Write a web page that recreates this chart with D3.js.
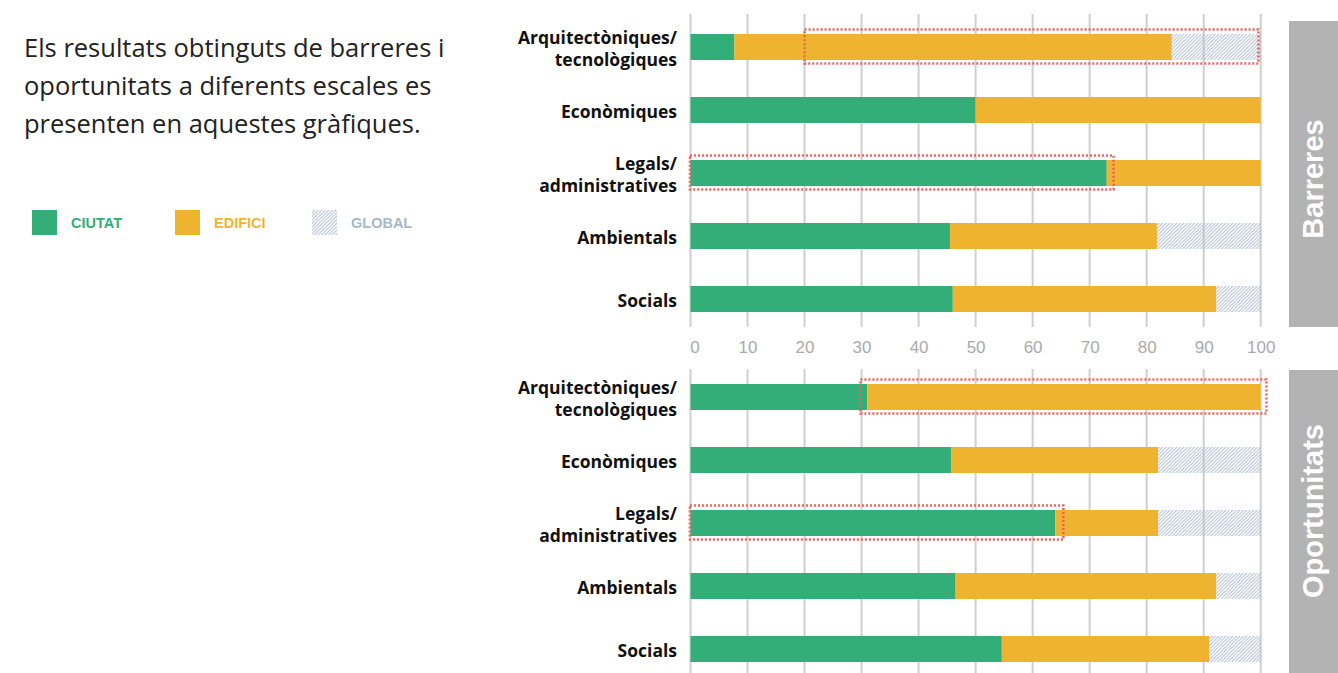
<!DOCTYPE html>
<html><head><meta charset="utf-8">
<script src="https://cdn.jsdelivr.net/npm/d3@7"></script>
<style>
html,body{margin:0;padding:0;background:#fff;}
svg{display:block;}
</style></head>
<body>
<svg id="chart" width="1338" height="673"></svg>
<script>
// ---- data ----
const categories = ["Arquitectòniques/tecnològiques", "Econòmiques", "Legals/administratives", "Ambientals", "Socials"];
const categoryLines = [["Arquitectòniques/", "tecnològiques"], ["Econòmiques"], ["Legals/", "administratives"], ["Ambientals"], ["Socials"]];
const seriesNames = ["CIUTAT", "EDIFICI", "GLOBAL"];
const barreresCiutat  = [7.7, 50, 73, 45.5, 46];
const barreresEdifici = [76.7, 50, 27, 36.3, 46.2];
const barreresGlobal  = [15.6, 0, 0, 18.2, 7.8];
const oportCiutat  = [31, 45.7, 64, 46.5, 54.6];
const oportEdifici = [69, 36.3, 18, 45.7, 36.4];
const oportGlobal  = [0, 18, 18, 7.8, 9];
const tickValues = [0, 10, 20, 30, 40, 50, 60, 70, 80, 90, 100];
// highlighted ranges: [categoryIndex, from, to]
const barreresHighlights = [[0, 20, 99.6], [2, -0.1, 74.2]];
const oportHighlights = [[0, 29.8, 101], [2, -0.1, 65.4]];
const panelTitles = ["Barreres", "Oportunitats"];
const introLines = ["Els resultats obtinguts de barreres i", "oportunitats a diferents escales es", "presenten en aquestes gràfiques."];

// ---- styles ----
const colGreen = "#33ae78", colYellow = "#efb42f", colHatch = "#a9b7cc", colRed = "#e8655a";
const labelFont = "'Open Sans', 'Noto Sans', sans-serif";
const sansFont = "'Liberation Sans', Arial, sans-serif";

const svg = d3.select("#chart");
const defs = svg.append("defs");
const pat = defs.append("pattern").attr("id", "hatch").attr("patternUnits", "userSpaceOnUse")
  .attr("width", 3.5).attr("height", 3.5);
pat.append("path").attr("d", "M-1,1 l2,-2 M0,3.5 l3.5,-3.5 M2.5,4.5 l2,-2")
  .attr("stroke", colHatch).attr("stroke-width", 0.9);

const x = d3.scaleLinear().domain([0, 100]).range([690.5, 1260.7]);

// intro text
const intro = svg.append("text").attr("font-family", labelFont).attr("font-size", 25.5).attr("fill", "#222");
introLines.forEach((l, i) => intro.append("tspan").attr("x", 24).attr("y", 57 + i * 38).text(l));

// legend
const legendFill = [colGreen, colYellow, "url(#hatch)"];
const legendText = [colGreen, colYellow, "#a9b7cc"];
const legendX = [32, 175, 312];
seriesNames.forEach((s, i) => {
  svg.append("rect").attr("x", legendX[i]).attr("y", 210).attr("width", 25).attr("height", 25).attr("fill", legendFill[i]);
  svg.append("text").attr("x", legendX[i] + 39).attr("y", 228).attr("font-family", sansFont)
    .attr("font-weight", 700).attr("font-size", 14.5).attr("fill", legendText[i]).text(s);
});

function panel(range, gridRange, ciutat, edifici, global, highlights, title, titleRect, titleY) {
  const y = d3.scalePoint().domain(categories).range(range).padding(0.5);
  const g = svg.append("g");
  // gridlines
  g.selectAll("line.grid").data(tickValues).join("line")
    .attr("x1", d => x(d)).attr("x2", d => x(d)).attr("y1", gridRange[0]).attr("y2", gridRange[1])
    .attr("stroke", "#cfcfcf").attr("stroke-width", 2);
  const bh = 26;
  const stacks = categories.map((c, i) => {
    const a = ciutat[i], b = edifici[i], gl = global[i];
    return [[0, a, colGreen], [a, a + b, colYellow], [a + b, a + b + gl, "url(#hatch)"]].map(s => ({c, s}));
  }).flat();
  g.selectAll("rect.seg").data(stacks.filter(d => d.s[1] > d.s[0])).join("rect")
    .attr("x", d => x(d.s[0])).attr("width", d => x(d.s[1]) - x(d.s[0]))
    .attr("y", d => y(d.c) - bh / 2).attr("height", bh).attr("fill", d => d.s[2]);
  // highlight boxes
  g.selectAll("rect.hl").data(highlights).join("rect")
    .attr("x", d => x(d[1])).attr("width", d => x(d[2]) - x(d[1]))
    .attr("y", d => y(categories[d[0]]) - 17.5).attr("height", 34)
    .attr("fill", "none").attr("stroke", colRed).attr("stroke-width", 2.5).attr("stroke-dasharray", "2,2");
  // category labels
  categories.forEach((c, i) => {
    const lines = categoryLines[i];
    const t = g.append("text").attr("text-anchor", "end").attr("font-family", labelFont)
      .attr("font-weight", 700).attr("font-size", 17.5).attr("fill", "#111");
    lines.forEach((l, j) => {
      t.append("tspan").attr("x", 677).attr("y", y(c) + 7.5 + (j - (lines.length - 1) / 2) * 22).text(l);
    });
  });
  // side title
  svg.append("rect").attr("x", 1289).attr("y", titleRect[0]).attr("width", 60).attr("height", titleRect[1] - titleRect[0]).attr("fill", "#b3b3b3");
  svg.append("text").attr("transform", `translate(1322.5,${titleY}) rotate(-90)`).attr("text-anchor", "middle")
    .attr("font-family", sansFont).attr("font-weight", 700).attr("font-size", 29).attr("fill", "#fff").text(title);
}

panel([15.5, 330.5], [14, 327], barreresCiutat, barreresEdifici, barreresGlobal, barreresHighlights, panelTitles[0], [21, 327], 179);
panel([365.5, 680.5], [369, 673], oportCiutat, oportEdifici, oportGlobal, oportHighlights, panelTitles[1], [370, 680], 511);

// x axis labels
const axis = d3.axisBottom(x).tickValues(tickValues).tickSize(0).tickPadding(0);
const ag = svg.append("g").attr("transform", "translate(0,341)").call(axis);
ag.select(".domain").remove();
ag.selectAll("text").attr("font-family", sansFont).attr("font-size", 17).attr("fill", "#aaa");
ag.selectAll(".tick").filter(d => d === 0).select("text").attr("dx", 4);
</script>
</body></html>
